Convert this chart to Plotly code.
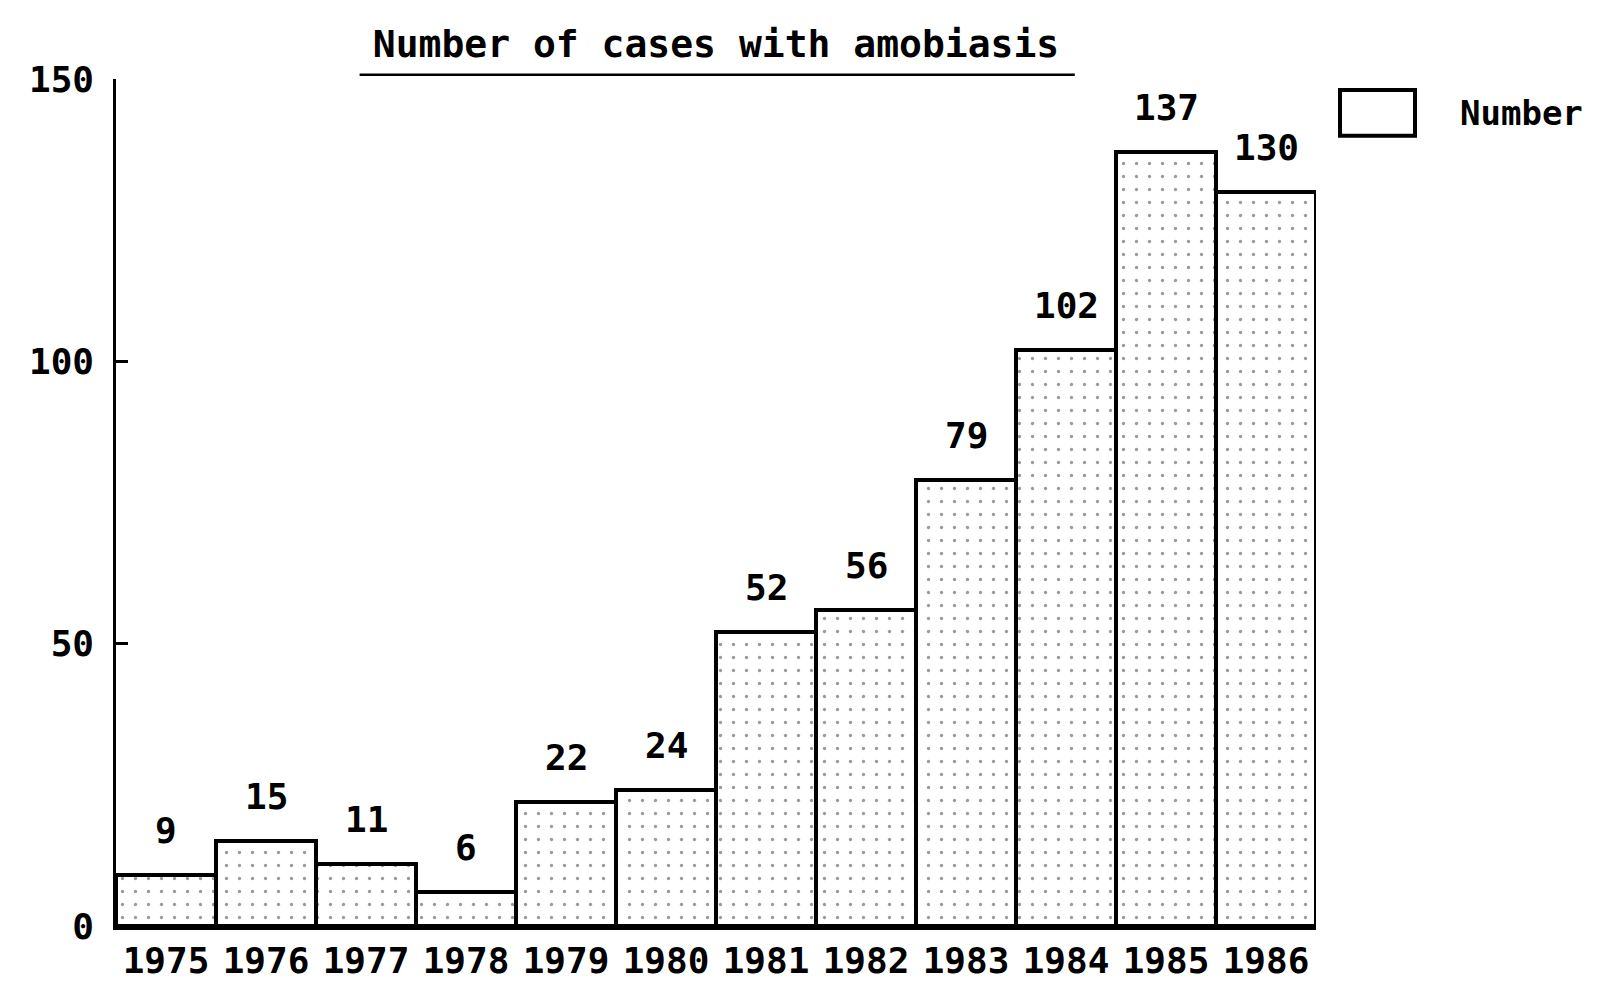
import plotly.graph_objects as go

years = ["1975", "1976", "1977", "1978", "1979", "1980",
         "1981", "1982", "1983", "1984", "1985", "1986"]
cases = [9, 15, 11, 6, 22, 24, 52, 56, 79, 102, 137, 130]
y_ticks = [0, 50, 100, 150]
y_tick_labels = ["0", "50", "100", "150"]
series_name = "Number"
title_text = "Number of cases with amobiasis"

FONT = "DejaVu Sans Mono"

fig = go.Figure()
fig.add_trace(go.Bar(
    x=years, y=cases, name=series_name,
    marker=dict(
        color="white",
        line=dict(color="black", width=4),
        pattern=dict(shape=".", fgcolor="#333333", bgcolor="white",
                     size=13, solidity=0.05),
    ),
    showlegend=False,
))

for i, v in enumerate(cases):
    fig.add_annotation(x=i, y=v, xref="x", yref="y", text="<b>%d</b>" % v,
                       showarrow=False, yanchor="bottom", yshift=22,
                       font=dict(family=FONT, size=36, color="black"))

# legend item drawn manually
fig.add_shape(type="rect", xref="paper", yref="paper",
              x0=1.02, x1=1.0825, y0=0.933, y1=0.987,
              line=dict(color="black", width=4), fillcolor="white")
fig.add_annotation(xref="paper", yref="paper", x=1.118, y=0.96,
                   xanchor="left", yanchor="middle", showarrow=False,
                   text="<b>" + series_name + "</b>",
                   font=dict(family=FONT, size=34, color="black"))

# title underline
fig.add_shape(type="line", xref="paper", yref="paper",
              x0=0.203, x1=0.799, y0=1.005, y1=1.005,
              line=dict(color="black", width=2.5))

fig.update_layout(
    width=1609, height=994,
    margin=dict(l=108, r=301, t=71, b=76),
    paper_bgcolor="white", plot_bgcolor="white",
    bargap=0,
    title=dict(text="<b>" + title_text + "</b>", x=0.5, xref="paper",
               xanchor="center", y=0.964, yref="container",
               yanchor="middle",
               font=dict(family=FONT, size=38, color="black")),
    font=dict(family=FONT, color="black"),
)
fig.update_xaxes(
    type="category", range=[-0.5, 11.5],
    showline=True, linecolor="black", linewidth=3.5,
    showgrid=False, ticks="",
    tickfont=dict(family=FONT, size=36, weight="bold"),
)
fig.update_yaxes(
    range=[0, 150], tickvals=y_ticks, ticktext=y_tick_labels,
    showline=True, linecolor="black", linewidth=2.5,
    showgrid=False, zeroline=False,
    ticks="inside", ticklen=12, tickwidth=2.5, tickcolor="black",
    tickfont=dict(family=FONT, size=36, weight="bold"), ticklabelstandoff=12,
)

fig.write_html("out.html")
